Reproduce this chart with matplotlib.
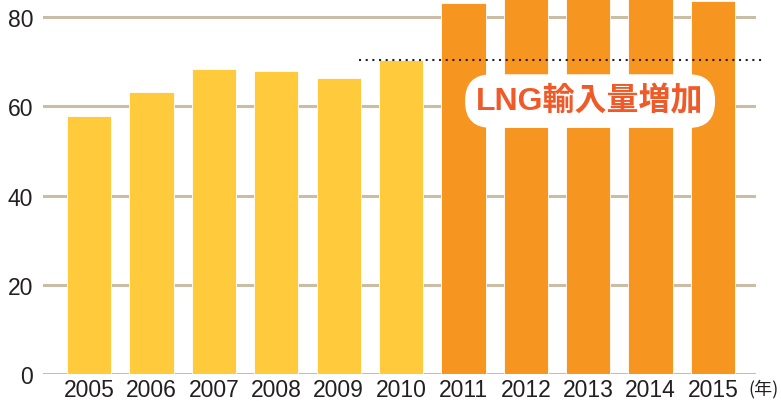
import numpy as np
import matplotlib.pyplot as plt

# データ
years = ["2005", "2006", "2007", "2008", "2009", "2010",
         "2011", "2012", "2013", "2014", "2015"]
values = [57.8, 63.2, 68.3, 68.0, 66.4, 70.4, 83.2, 87.0, 88.0, 89.0, 83.6]
colors = ["#FFCA3C"] * 6 + ["#F79521"] * 5
yticks = [0, 20, 40, 60, 80]
level_2010 = 70.4
label = "LNG輸入量増加"

plt.rcParams["font.family"] = ["Liberation Sans", "Noto Sans CJK JP"]

fig = plt.figure(figsize=(7.81, 4.02), dpi=100)
ax = fig.add_axes([43 / 781, 1 - 375 / 402, (756 - 43) / 781, 375 / 402])

x = np.arange(len(years))
ax.bar(x, values, width=0.71, color=colors, edgecolor="#FFFFFF", linewidth=0.6,
       zorder=2)

# 目盛り線
for t in yticks:
    ax.axhline(t, color="#CABDA5", linewidth=2.2, zorder=1)

ax.set_ylim(0, 84.1)
ax.set_xlim(-0.74, len(years) - 1 + 0.69)
ax.set_yticks(yticks)
ax.set_yticklabels([str(t) for t in yticks], fontsize=16.5, color="#231F20")
ax.set_xticks(x)
ax.set_xticklabels(years, fontsize=16.5, color="#231F20")
ax.tick_params(length=0)
ax.tick_params(axis="x", pad=3)
ax.tick_params(axis="y", pad=7)
for s in ax.spines.values():
    s.set_visible(False)

# 2010年の水準
ax.plot([4.33, 10.8], [level_2010, level_2010], color="#231F20",
        linewidth=1.5, linestyle=(0, (1, 2.2)), zorder=3, clip_on=False)

# ラベル
ax.text(8.03, 61.2, label, ha="center", va="center", fontsize=23,
        fontweight="bold", color="#F05A28", zorder=5,
        bbox=dict(boxstyle="round,pad=0.33,rounding_size=0.8",
                  facecolor="white", edgecolor="white"))

fig.text(779 / 781, 1 - 389 / 402, "(年)", fontsize=13, color="#231F20",
         va="center", ha="right", family=["Noto Sans CJK JP"])

fig.savefig("out.png", dpi=100)
